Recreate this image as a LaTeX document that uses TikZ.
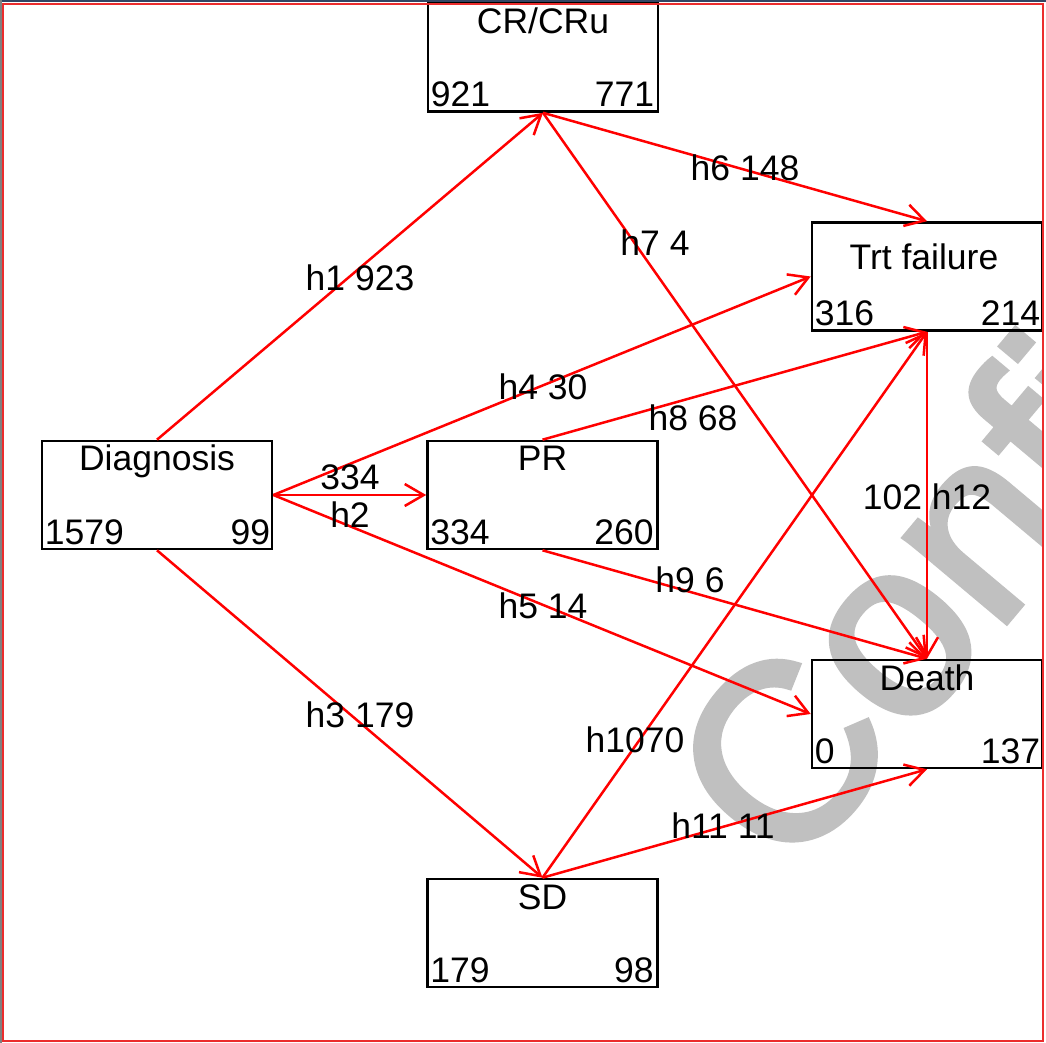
\documentclass[tikz,border=0pt]{standalone}
\usepackage{fontspec}
\setmainfont{Liberation Sans}
\newfontfamily\markfont[FakeBold=2.5]{Liberation Sans}
\usetikzlibrary{arrows.meta,calc}
\definecolor{trans}{RGB}{255,0,0}
\definecolor{frame}{RGB}{235,45,45}
\definecolor{wmark}{RGB}{192,192,192}
\definecolor{topline}{RGB}{50,70,100}
\begin{document}
\begin{tikzpicture}[x=1pt,y=-1pt,
  state/.style={draw=black, line width=2.6pt, minimum width=230pt, minimum height=108pt, inner sep=0pt},
  txt/.style={inner sep=0pt, font=\fontsize{35.5}{42}\selectfont},
  title/.style={txt, anchor=base},
  arr/.style={draw=trans, line width=2.5pt, -{Straight Barb[length=19pt,width=22pt]}},
]
\useasboundingbox (0,0) rectangle (1046,1043);
\fill[white] (0,0) rectangle (1046,1043);

% watermark behind everything
\begin{scope}
  \clip (3,4) rectangle (1043,1041);
  \node[anchor=base west, rotate=50, inner sep=0pt, text=wmark,
        font=\markfont\fontsize{250}{250}\selectfont] (wm) at (790,880) {Confi};
\end{scope}

% states
\node[state] (cr)    at (543,57.5) {};
\node[state] (trt)   at (927,276.5) {};
\node[state] (diag)  at (157,495) {};
\node[state] (pr)    at (542.5,495) {};
\node[state] (death) at (927,714) {};
\node[state] (sd)    at (542.5,933) {};

% state titles
\node[title] (crT)    at ($(cr.north)+(0,31)$) {CR/CRu};
\node[title] (trtT)   at ($(trt.north)+(-3,48.5)$) {Trt failure};
\node[title] (diagT)  at ($(diag.north)+(0,31)$) {Diagnosis};
\node[title] (prT)    at ($(pr.north)+(0,31)$) {PR};
\node[title] (deathT) at ($(death.north)+(0,31.5)$) {Death};
\node[title] (sdT)    at ($(sd.north)+(0,32)$) {SD};

% counts in the lower corners
\node[txt, anchor=base west] (crL)    at ($(cr.south west)+(4,-6)$) {921};
\node[txt, anchor=base east] (crR)    at ($(cr.south east)+(-5,-6)$) {771};
\node[txt, anchor=base west] (trtL)   at ($(trt.south west)+(4,-6)$) {316};
\node[txt, anchor=base east] (trtR)   at ($(trt.south east)+(-3,-6)$) {214};
\node[txt, anchor=base west] (diagL)  at ($(diag.south west)+(4,-6)$) {1579};
\node[txt, anchor=base east] (diagR)  at ($(diag.south east)+(-3,-6)$) {99};
\node[txt, anchor=base west] (prL)    at ($(pr.south west)+(4,-6)$) {334};
\node[txt, anchor=base east] (prR)    at ($(pr.south east)+(-5,-6)$) {260};
\node[txt, anchor=base west] (deathL) at ($(death.south west)+(4,-6)$) {0};
\node[txt, anchor=base east] (deathR) at ($(death.south east)+(-3,-6)$) {137};
\node[txt, anchor=base west] (sdL)    at ($(sd.south west)+(4,-6)$) {179};
\node[txt, anchor=base east] (sdR)    at ($(sd.south east)+(-5,-6)$) {98};

% transitions
\draw[arr] (diag.north) -- (cr.south);
\draw[arr] (diag.east)  -- (pr.west);
\draw[arr] (diag.south) -- (sd.north);
\draw[arr] (diag.east)  -- (trt.west);
\draw[arr] (diag.east)  -- (death.west);
\draw[arr] (cr.south)   -- (trt.north);
\draw[arr] (cr.south)   -- (death.north);
\draw[arr] (pr.north)   -- (trt.south);
\draw[arr] (pr.south)   -- (death.north);
\draw[arr] (sd.north)   -- (trt.south);
\draw[arr] (sd.north)   -- (death.south);
\draw[arr] (trt.south)  -- (death.north);

% transition labels
\node[txt] (l1)  at (360,278) {h1 923};
\node[txt] (l2a) at (350,477) {334};
\node[txt] (l2b) at (350,515) {h2};
\node[txt] (l3)  at (360,715) {h3 179};
\node[txt] (l4)  at (543,387) {h4 30};
\node[txt] (l5)  at (543,606) {h5 14};
\node[txt] (l6)  at (745,168) {h6 148};
\node[txt] (l7)  at (655,243) {h7 4};
\node[txt] (l8)  at (693,418) {h8 68};
\node[txt] (l9)  at (690,580) {h9 6};
\node[txt] (l10) at (635,740) {h1070};
\node[txt] (l11) at (723,826) {h11 11};
\node[txt] (l12) at (927,497) {102 h12};

% outer frame
\draw[frame, line width=1.6pt] (3,4) rectangle (1043,1041);
\draw[topline, line width=1.6pt] (0,0.8) -- (1046,0.8);
\draw[gray, line width=1.6pt] (0.8,0) -- (0.8,1043);
\end{tikzpicture}
\end{document}
